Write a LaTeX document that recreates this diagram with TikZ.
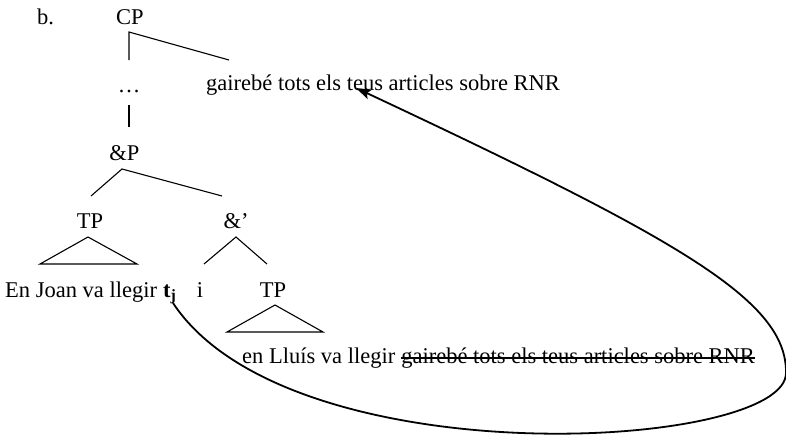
\documentclass[tikz,border=0pt]{standalone}
\usepackage{fontspec}
\setmainfont{Liberation Serif}
\usetikzlibrary{arrows.meta}
\begin{document}
\begin{tikzpicture}[x=1pt,y=-1pt,
  lbl/.style={inner sep=0pt,font=\fontsize{22.5}{27}\selectfont},
  branch/.style={line width=1.1pt},
  move/.style={line width=1.8pt,-{Stealth[length=15pt,width=10pt,inset=3pt]}}]
\useasboundingbox (0,0) rectangle (786,436);
% labels
\node[lbl,anchor=base west] (b) at (37,25) {b.};
\node[lbl,anchor=base] (cp) at (130,25) {CP};
\node[lbl,anchor=base] (dots) at (129,92) {\ldots};
\node[lbl,anchor=base west] (moved) at (206,90.5) {gairebé tots els teus articles sobre RNR};
\node[lbl,anchor=base] (andp) at (124.5,160) {\&P};
\node[lbl,anchor=base] (tp1) at (90,228) {TP};
\node[lbl,anchor=base] (andbar) at (236,228) {\&’};
\node[lbl,anchor=base west] (joan) at (5,297) {En Joan va llegir};
\node[lbl,anchor=base west] (tj) at ([xshift=5.6pt]joan.base east) {\textbf{t}\textsubscript{\textbf{j}}};
\node[lbl,anchor=base] (conj) at (200,297) {i};
\node[lbl,anchor=base] (tp2) at (273,297) {TP};
\node[lbl,anchor=base west] (lluis) at (242,363) {en Lluís va llegir};
\node[lbl,anchor=base west] (del) at ([xshift=5.6pt]lluis.base east) {gairebé tots els teus articles sobre RNR};
% tree coordinates
\coordinate (cpb) at (129,32);
\coordinate (cpl) at (129,60);
\coordinate (cpr) at (229,60);
\coordinate (dt) at (129,105);
\coordinate (db) at (129,127);
\coordinate (ap) at (122,169);
\coordinate (apl) at (91,196);
\coordinate (apr) at (222,196);
\coordinate (t1a) at (88,237);
\coordinate (t1l) at (40,264);
\coordinate (t1r) at (137,264);
\coordinate (ab) at (236,237);
\coordinate (abl) at (204,264);
\coordinate (abr) at (267,264);
\coordinate (t2a) at (275,305);
\coordinate (t2l) at (227,332);
\coordinate (t2r) at (323,332);
% branches
\draw[branch] (cpl) -- (cpb) -- (cpr);
\draw[branch] (dt) -- (db);
\draw[branch] (apl) -- (ap) -- (apr);
\draw[branch] (t1a) -- (t1l) -- (t1r) -- cycle;
\draw[branch] (abl) -- (ab) -- (abr);
\draw[branch] (t2a) -- (t2l) -- (t2r) -- cycle;
% strike-through
\draw[line width=1.5pt] ([yshift=5pt]del.base west) -- ([yshift=5pt]del.base east);
% movement arrow
\coordinate (mstart) at (173,303);
\coordinate (mend) at (356,88);
\draw[move] (mstart) .. controls (290,480) and (790,450) .. (786,372)
  .. controls (786,300) and (680,240) .. (mend);
\end{tikzpicture}
\end{document}
